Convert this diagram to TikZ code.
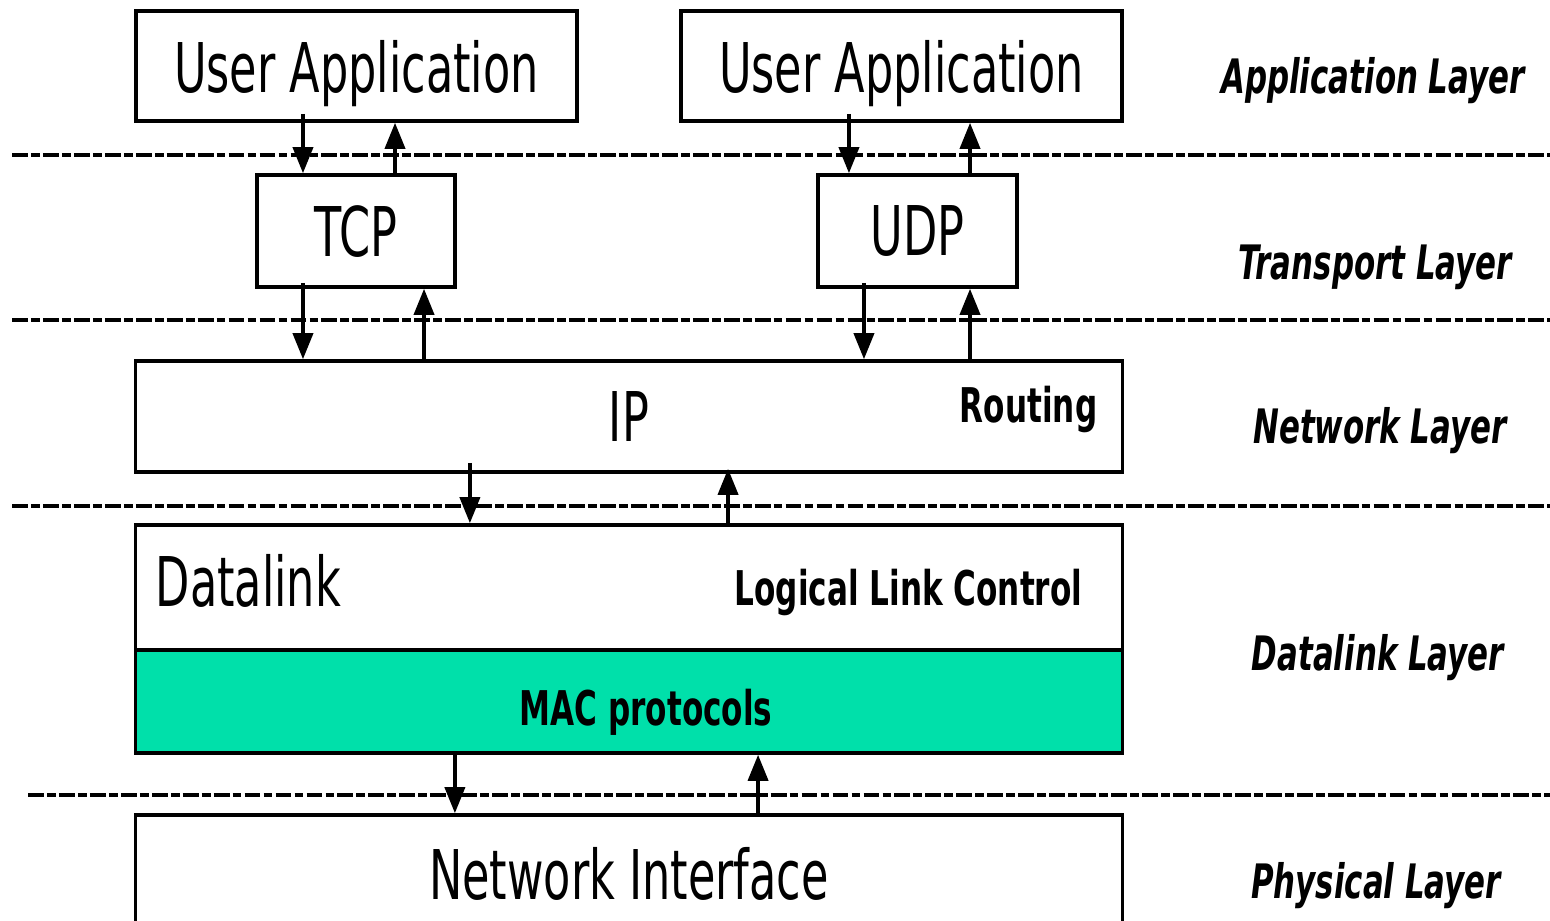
\documentclass[tikz,border=0pt]{standalone}
\usepackage{fontspec}
\setmainfont{DejaVu Sans}[FakeStretch=0.65]
\usetikzlibrary{arrows.meta}
\definecolor{macgreen}{RGB}{0,224,170}
\tikzset{
  layerbox/.style={draw, line width=1pt, fill=white, inner sep=0pt, text depth=0pt, font=\fontsize{19.5}{22}\selectfont},
  flow/.style={-{Triangle[width=0.2cm,length=0.26cm]}, line width=1.05pt},
  sep/.style={line width=0.9pt, dash pattern=on 4.5pt off 0.9pt on 2.5pt off 0.9pt},
  layername/.style={font=\fontsize{13.5}{15}\selectfont\bfseries\itshape, text depth=0pt},
  tag/.style={font=\fontsize{13.6}{15}\selectfont\bfseries, inner sep=0pt},
}
\begin{document}
\begin{tikzpicture}[x=0.01cm,y=-0.01cm]
        \useasboundingbox (0,0) rectangle (1550,921);
        % layer separators
        \draw[sep] (12,155) -- (1550,155);
        \draw[sep, line width=1.1pt] (12,320) -- (1550,320);
        \draw[sep, line width=1.1pt] (12,506) -- (1550,506);
        \draw[sep, line width=1.1pt] (28,795) -- (1550,795);
        % boxes
        \node[layerbox, minimum width=4.41cm, minimum height=1.10cm] (ua1) at (356.5,66) {User Application};
        \node[layerbox, minimum width=4.41cm, minimum height=1.10cm] (ua2) at (901.5,66) {User Application};
        \node[layerbox, minimum width=1.98cm, minimum height=1.12cm] (tcp) at (356,231) {TCP};
        \node[layerbox, minimum width=1.99cm, minimum height=1.12cm] (udp) at (917.5,231) {UDP};
        \node[layerbox, minimum width=9.86cm, minimum height=1.11cm] (ip) at (629,416.5) {IP};
        \node[tag, anchor=base east] (routing) at (1098,422) {Routing};
        \node[layerbox, minimum width=9.86cm, minimum height=1.25cm] (dl) at (629,587.5) {};
        \node[layerbox, fill=macgreen, minimum width=9.86cm, minimum height=1.03cm] (mac) at (629,701.5) {};
        \node[font=\fontsize{19.5}{22}\selectfont, anchor=base west, inner sep=0pt] (dltext) at (155,606) {Datalink};
        \node[tag, anchor=base east] (llc) at (1083,605) {Logical Link Control};
        \node[tag] (macp) at (646,712) {MAC protocols};
        \node[layerbox, minimum width=9.86cm, minimum height=1.16cm] (ni) at (629,873) {Network Interface};
        % layer names
        \node[layername] (app) at (1373,75) {Application Layer};
        \node[layername] (trans) at (1375,262) {Transport Layer};
        \node[layername] (net) at (1380,425) {Network Layer};
        \node[layername] (link) at (1378,652) {Datalink Layer};
        \node[layername] (phys) at (1376,880) {Physical Layer};
        % arrows
        \coordinate (t1) at ([xshift=-0.53cm]tcp.north);
        \coordinate (t2) at ([xshift=0.39cm]tcp.north);
        \coordinate (t3) at ([xshift=-0.53cm]tcp.south);
        \coordinate (t4) at ([xshift=0.68cm]tcp.south);
        \coordinate (u1) at ([xshift=-0.685cm]udp.north);
        \coordinate (u2) at ([xshift=0.525cm]udp.north);
        \coordinate (u3) at ([xshift=-0.535cm]udp.south);
        \coordinate (u4) at ([xshift=0.525cm]udp.south);
        \coordinate (i1) at ([xshift=-1.59cm]ip.south);
        \coordinate (i2) at ([xshift=0.99cm]ip.south);
        \coordinate (m1) at ([xshift=-1.74cm]mac.south);
        \coordinate (m2) at ([xshift=1.29cm]mac.south);
        \draw[flow, shorten <=-0.09cm] (t1 |- ua1.south) -- (t1);
        \draw[flow] (t2) -- (t2 |- ua1.south);
        \draw[flow, shorten <=-0.09cm] (u1 |- ua2.south) -- (u1);
        \draw[flow] (u2) -- (u2 |- ua2.south);
        \draw[flow, shorten <=-0.06cm] (t3) -- (t3 |- ip.north);
        \draw[flow] (t4 |- ip.north) -- (t4);
        \draw[flow, shorten <=-0.06cm] (u3) -- (u3 |- ip.north);
        \draw[flow] (u4 |- ip.north) -- (u4);
        \draw[flow, shorten <=-0.11cm] (i1) -- (i1 |- dl.north);
        \draw[flow, shorten >=-0.05cm] (i2 |- dl.north) -- (i2);
        \draw[flow] (m1) -- (m1 |- ni.north);
        \draw[flow] (m2 |- ni.north) -- (m2);
      \end{tikzpicture}
\end{document}
